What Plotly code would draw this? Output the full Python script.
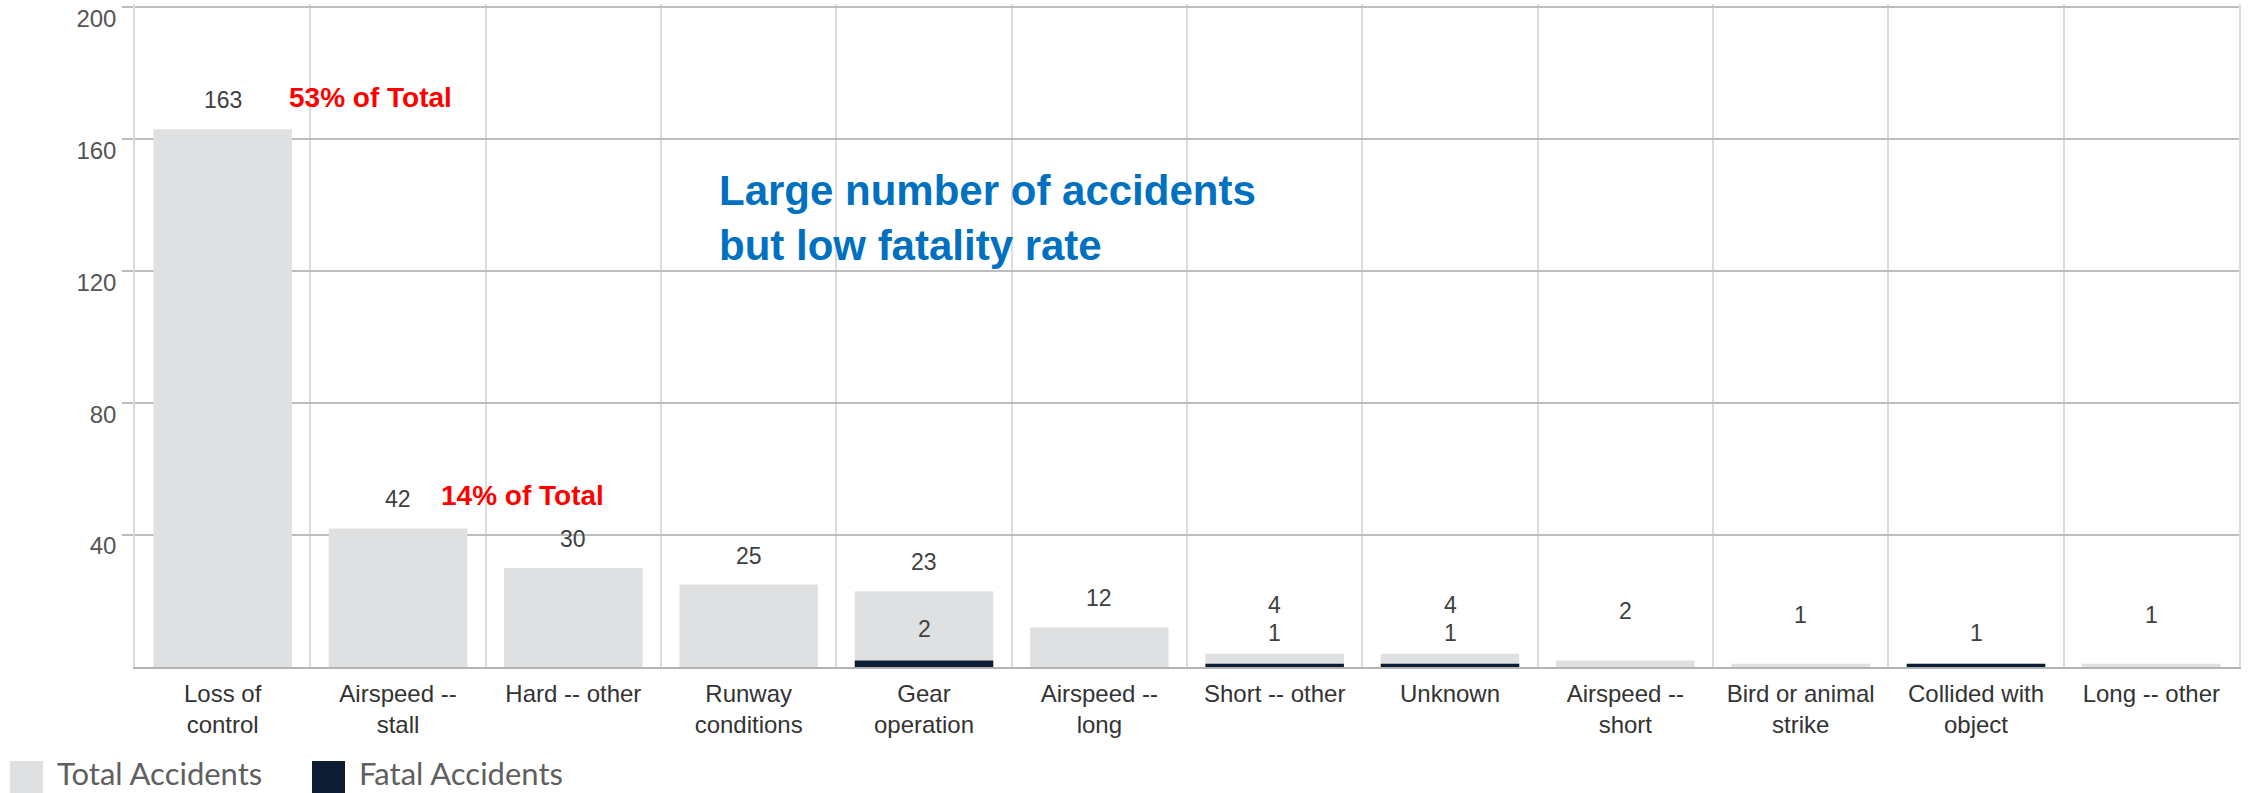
import plotly.graph_objects as go

# Accident counts by defining event
categories = [
    "Loss of<br>control", "Airspeed --<br>stall", "Hard -- other", "Runway<br>conditions",
    "Gear<br>operation", "Airspeed --<br>long", "Short -- other", "Unknown",
    "Airspeed --<br>short", "Bird or animal<br>strike", "Collided with<br>object", "Long -- other",
]
total_accidents = [163, 42, 30, 25, 23, 12, 4, 4, 2, 1, 1, 1]
fatal_accidents = [0, 0, 0, 0, 2, 0, 1, 1, 0, 0, 1, 0]
y_ticks = [40, 80, 120, 160, 200]

TOTAL_COLOR = "#dfe0e2"
FATAL_COLOR = "#0d1d33"
LABEL_FONT = dict(family="Liberation Sans, Arial, sans-serif", size=23, color="#404040")

fig = go.Figure()
fig.add_trace(go.Bar(x=categories, y=total_accidents, name="Total Accidents",
                     marker=dict(color=TOTAL_COLOR, line=dict(width=0)), showlegend=False))
fig.add_trace(go.Bar(x=categories, y=fatal_accidents, name="Fatal Accidents",
                     marker=dict(color=FATAL_COLOR, line=dict(width=0)), showlegend=False))

# Value labels: totals above each bar, fatal counts on a row just above the axis
annotations = []
for cat, tot, fat in zip(categories, total_accidents, fatal_accidents):
    if fat > 0:
        annotations.append(dict(x=cat, y=fat, text=str(fat), showarrow=False,
                                yanchor="middle", yshift=31, font=LABEL_FONT))
    if tot != fat:
        annotations.append(dict(x=cat, y=tot, text=str(tot), showarrow=False,
                                yanchor="middle", yshift=29 if tot >= 10 else 49,
                                font=LABEL_FONT))

# Share-of-total call-outs for the two largest categories
grand_total = sum(total_accidents)
red_font = dict(family="Liberation Sans, Arial, sans-serif", size=28, color="#ff0000")
for idx, dx, dy in [(0, 64, 32), (1, 41, 33)]:
    share = round(100 * total_accidents[idx] / grand_total)
    annotations.append(dict(x=categories[idx], y=total_accidents[idx],
                            text=f"<b>{share}% of Total</b>", showarrow=False,
                            xanchor="left", yanchor="middle", xshift=dx, yshift=dy,
                            font=red_font))

annotations.append(dict(xref="paper", yref="y", x=0.2766, y=136.2,
                        text="<b>Large number of accidents<br>but low fatality rate</b>",
                        showarrow=False, xanchor="left", yanchor="middle", align="left",
                        font=dict(family="Liberation Sans, Arial, sans-serif", size=42,
                                  color="#0070c0")))

# Legend row beneath the axis
legend_font = dict(family="Lato, sans-serif", size=31, color="#5f5f5f")
shapes = []
for i, (label, color) in enumerate([("Total Accidents", TOTAL_COLOR),
                                    ("Fatal Accidents", FATAL_COLOR)]):
    left = -125 + i * 302
    shapes.append(dict(type="rect", xref="paper", yref="paper",
                       xsizemode="pixel", ysizemode="pixel", xanchor=0, yanchor=0,
                       x0=left, x1=left + 33, y0=-94, y1=-127,
                       fillcolor=color, line=dict(width=0)))
    annotations.append(dict(xref="paper", yref="paper", x=0, y=0,
                            xshift=left + 45, yshift=-106, text=label, showarrow=False,
                            xanchor="left", yanchor="middle", font=legend_font))

fig.update_layout(
    width=2249, height=793,
    margin=dict(l=135, r=10, t=4, b=126),
    paper_bgcolor="white", plot_bgcolor="white",
    barmode="overlay", bargap=0.21,
    annotations=annotations, shapes=shapes,
    showlegend=False,
    xaxis=dict(
        type="category", tickson="boundaries", ticks="", automargin=False,
        showgrid=True, gridcolor="#dcdcdc", gridwidth=1.5,
        showline=True, linecolor="#b3b3b3", linewidth=2,
        tickfont=dict(family="Liberation Sans, Arial, sans-serif", size=24, color="#333333"),
        ticklabelstandoff=4,
    ),
    yaxis=dict(
        range=[0, 201], tickvals=y_ticks, ticks="outside", ticklen=11,
        tickcolor="#bdbdbd", tickwidth=2, automargin=False,
        showgrid=True, gridcolor="#bdbdbd", gridwidth=2,
        zeroline=False,
        showline=True, linecolor="#dcdcdc", linewidth=1.5, mirror=True,
        tickfont=dict(family="Liberation Sans, Arial, sans-serif", size=24, color="#555555"),
        ticklabelstandoff=1, ticklabelshift=11, ticklabeloverflow="allow",
    ),
)

fig.write_html("out.html")
